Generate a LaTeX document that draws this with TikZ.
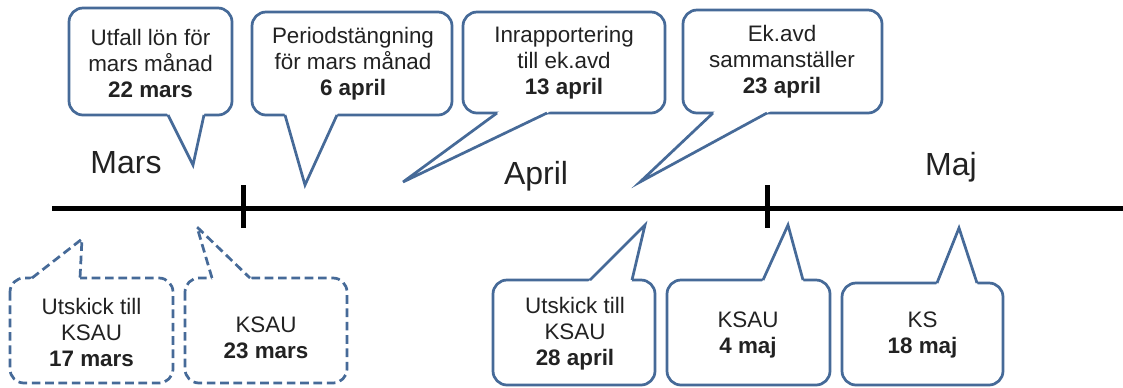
\documentclass[tikz,border=0pt]{standalone}
\usepackage{fontspec}
\setmainfont{Liberation Sans}
\usetikzlibrary{calc}
\definecolor{cborder}{RGB}{70,106,152}
\definecolor{ctxt}{RGB}{34,34,34}
\tikzset{
  boxline/.style={draw=cborder, line width=2.05pt, fill=white, rounded corners=10.5pt},
  legline/.style={draw=cborder, line width=2.05pt, line join=miter},
  dashedbox/.style={dash pattern=on 6.5pt off 3.5pt},
  calltext/.style={font=\fontsize{16.8}{19.5}\selectfont, text=ctxt, align=center, inner sep=0pt},
  month/.style={font=\fontsize{24}{28}\selectfont, text=ctxt, inner sep=0pt, anchor=base},
  axisline/.style={line width=3.75pt, black},
}
% #1 extra style, #2 x1, #3 y1, #4 x2, #5 y2, #6 base x left, #7 base x right, #8 base y, #9 tip
\newcommand\mycallout[9]{%
  \draw[boxline,#1] (#2,#3) rectangle (#4,#5);
  \fill[white] ($(#6,#8)!-3pt!(#9)$) -- (#9) -- ($(#7,#8)!-3pt!(#9)$) -- cycle;
  \draw[legline,#1] (#6,#8) -- (#9) -- (#7,#8);
}
\begin{document}
\begin{tikzpicture}[x=0.75pt, y=-0.75pt]
\useasboundingbox (0,0) rectangle (1123,387);

% timeline
\coordinate (tlstart) at (52,208);
\coordinate (tlend) at (1123,208);
\draw[axisline] (tlstart) -- (tlend);
\coordinate (tickAtop) at (243,185);
\coordinate (tickAbot) at (243,228);
\coordinate (tickBtop) at (767,185);
\coordinate (tickBbot) at (767,228);
\draw[axisline] (tickAtop) -- (tickAbot);
\draw[axisline] (tickBtop) -- (tickBbot);

% months
\node[month] (mars) at (126,173) {Mars};
\node[month] (april) at (536,184) {April};
\node[month] (maj) at (951,175) {Maj};

% top callouts
\mycallout{}{69}{8}{232}{115}{168}{204}{115}{193,165}
\node[calltext] (t1) at (150.5,63.5) {Utfall lön för\\mars månad\\\textbf{22 mars}};

\mycallout{}{252}{12}{452}{115}{285}{337}{115}{305,185}
\node[calltext] (t2) at (353,63.5) {Periodstängning\\för mars månad\\\textbf{6 april}};

\mycallout{}{463}{12}{665}{113}{497}{547}{113}{403,182}
\node[calltext] (t3) at (564,63) {Inrapportering\\till ek.avd\\\textbf{13 april}};

\mycallout{}{683}{10}{882}{113}{713}{767}{113}{640,182}
\node[calltext] (t4) at (782,62) {Ek.avd\\sammanställer\\\textbf{23 april}};

% bottom callouts
\mycallout{dashedbox}{10}{278}{173}{383}{32}{80}{278}{82,239}
\node[calltext] (b1) at (91.5,332) {Utskick till\\KSAU\\\textbf{17 mars}};

\mycallout{dashedbox}{185}{278}{347}{383}{212}{250}{278}{197,227}
\node[calltext] (b2) at (266,338) {KSAU\\\textbf{23 mars}};

\mycallout{}{493}{280}{655}{385}{590}{632}{280}{645,225}
\node[calltext] (b3) at (575,334) {Utskick till\\KSAU\\\textbf{28 april}};

\mycallout{}{667}{280}{830}{385}{763}{803}{280}{788,225}
\node[calltext] (b4) at (748,335) {KSAU\\\textbf{4 maj}};

\mycallout{}{842}{283}{1003}{385}{937}{977}{283}{959,228}
\node[calltext] (b5) at (922.5,335) {KS\\\textbf{18 maj}};
\end{tikzpicture}
\end{document}
